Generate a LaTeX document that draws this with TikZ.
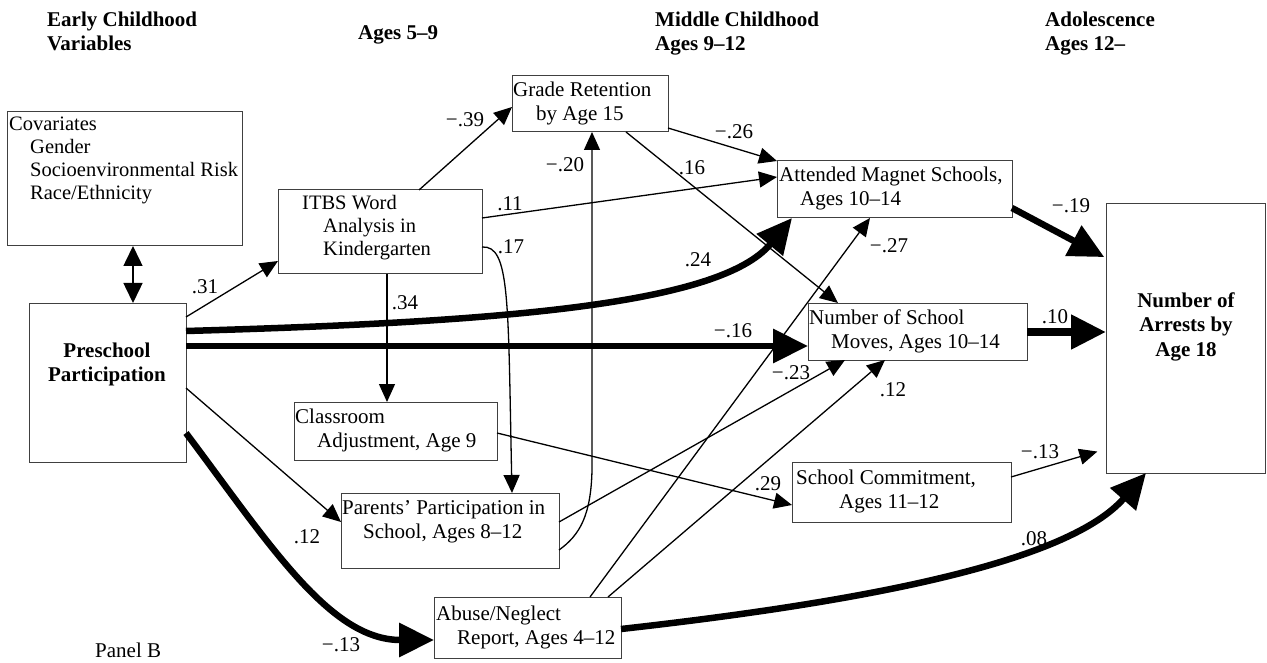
\documentclass[tikz,border=0pt]{standalone}
\usepackage{fontspec}
\setmainfont{Liberation Serif}
\usetikzlibrary{arrows.meta}
\newcommand{\tl}[1]{\begin{tabular}[t]{@{}l@{}}#1\end{tabular}}
\newcommand{\tc}[1]{\begin{tabular}[t]{@{}c@{}}#1\end{tabular}}
\begin{document}
\begin{tikzpicture}[x=1pt,y=-1pt,
  box/.style={draw=black!75, line width=1pt, anchor=north west, inner sep=0pt, outer sep=0pt},
  txt/.style={anchor=base west, inner sep=0pt, font=\fontsize{21}{24}\selectfont},
  txtc/.style={anchor=base west, inner sep=0pt, font=\fontsize{20.5}{23}\selectfont},
  hdr/.style={anchor=base west, inner sep=0pt, font=\fontsize{21}{24}\selectfont\bfseries},
  bld/.style={anchor=base, inner sep=0pt, font=\fontsize{21}{24.5}\selectfont\bfseries},
  lbl/.style={inner sep=0pt, font=\fontsize{21}{24}\selectfont},
  thin/.style={line width=1.3pt, -{Triangle[length=18pt 0,width=16pt 0]}},
  thick/.style={line width=6.5pt, -{Triangle[length=35pt 0,width=33pt 0]}},
]
\useasboundingbox (0,0) rectangle (1267,663);

% headers
\node[hdr] (h1) at (47,27) {\tl{Early Childhood\\Variables}};
\node[hdr] (h2) at (358,40) {Ages 5–9};
\node[hdr] (h3) at (655,27) {\tl{Middle Childhood\\Ages 9–12}};
\node[hdr] (h4) at (1045,27) {\tl{Adolescence\\Ages 12–}};
\node[txt] (panel) at (95,657) {Panel B};

% boxes
\node[box, minimum width=235pt, minimum height=134pt] (cov) at (7,112) {};
\node[box, minimum width=157pt, minimum height=159pt] (pre) at (29,303) {};
\node[box, minimum width=204pt, minimum height=84pt] (itbs) at (278,190) {};
\node[box, minimum width=156pt, minimum height=56pt] (gr) at (512,76) {};
\node[box, minimum width=235pt, minimum height=57pt] (mag) at (777,161) {};
\node[box, minimum width=219pt, minimum height=57pt] (mov) at (808,303) {};
\node[box, minimum width=159pt, minimum height=269pt] (arr) at (1106,204) {};
\node[box, minimum width=203pt, minimum height=58pt] (cls) at (294,402) {};
\node[box, minimum width=218pt, minimum height=75pt] (par) at (341,493) {};
\node[box, minimum width=187pt, minimum height=61pt] (abu) at (434,597) {};
\node[box, minimum width=219pt, minimum height=60pt] (sc) at (792,462) {};

% box texts
\node[txtc] (covt) at (9,131) {\tl{Covariates\\\hspace*{21pt}Gender\\\hspace*{21pt}Socioenvironmental Risk\\\hspace*{21pt}Race/Ethnicity}};
\node[bld] (pret) at (107,357) {\tc{Preschool\\Participation}};
\node[txtc] (itbst) at (302,210) {\tl{ITBS Word\\\hspace*{21pt}Analysis in\\\hspace*{21pt}Kindergarten}};
\node[txt] (grt) at (513,97) {\tl{Grade Retention\\\hspace*{23pt}by Age 15}};
\node[txt] (magt) at (779,182) {\tl{Attended Magnet Schools,\\\hspace*{21pt}Ages 10–14}};
\node[txt] (movt) at (809,324) {\tl{Number of School\\\hspace*{22pt}Moves, Ages 10–14}};
\node[bld] (arrt) at (1186,307) {\tc{Number of\\Arrests by\\Age 18}};
\node[txt] (clst) at (295,423) {\tl{Classroom\\\hspace*{22pt}Adjustment, Age 9}};
\node[txt] (part) at (342,514) {\tl{Parents’ Participation in\\\hspace*{21pt}School, Ages 8–12}};
\node[txt] (abut) at (436,620) {\tl{Abuse/Neglect\\\hspace*{21pt}Report, Ages 4–12}};
\node[txt] (sct) at (796,484) {\tl{School Commitment,\\\hspace*{43pt}Ages 11–12}};

% connectors
\draw[line width=1.5pt, {Triangle[length=20pt 0,width=19pt 0]}-{Triangle[length=20pt 0,width=19pt 0]}]
  ([xshift=126pt]cov.south west) -- ([xshift=104pt]pre.north west);
\draw[thin] ([yshift=-14pt]pre.north east) -- ([yshift=13pt]itbs.south west);
\draw[thin] ([xshift=141pt]itbs.north west) -- ([yshift=-31pt]gr.north west);
\draw[thin] ([yshift=4pt]gr.south east) -- (mag.north west);
\draw[thin] ([xshift=114pt]gr.south west) -- ([xshift=30pt]mov.north west);
\draw[thin] ([yshift=-28pt]itbs.north east) -- ([yshift=-16pt]mag.north west);
\draw[thin] ([yshift=27pt]itbs.south east) .. controls (510,245) and (508,300) .. ([xshift=171pt]par.north west);
\draw[thin] ([xshift=109pt]itbs.south west) -- ([xshift=93pt]cls.north west);
\draw[thin] ([yshift=-85pt]pre.north east) -- ([yshift=-29pt]par.north west);
\draw[thin] ([yshift=18pt]par.south east) .. controls (580,535) and (591,515) .. (592,470) -- ([xshift=80pt]gr.south west);
\draw[thin] ([yshift=-31pt]cls.north east) -- ([yshift=-43pt]sc.north west);
\draw[thin] ([yshift=-29pt]par.north east) -- ([xshift=37pt]mov.south west);
\draw[thin] ([xshift=156pt]abu.north west) -- ([xshift=93pt]mag.south west);
\draw[thin] ([xshift=174pt]abu.north west) -- ([xshift=77pt]mov.south west);
\draw[thin, shorten >=9pt] ([yshift=-15pt]sc.north east) -- ([yshift=-245pt]arr.north west);

\draw[thick] ([yshift=-28pt]pre.north east) .. controls (500,322) and (720,305) .. ([xshift=15pt]mag.south west);
\draw[thick] ([yshift=-43pt]pre.north east) -- ([yshift=-43pt]mov.north west);
\draw[thick] ([yshift=29pt]pre.south east) .. controls (270,545) and (330,640) .. ([yshift=-43pt]abu.north west);
\draw[thick, shorten >=2pt] ([yshift=-47pt]mag.north east) -- ([yshift=-54pt]arr.north west);
\draw[thick, line width=8pt] ([yshift=-29pt]mov.north east) -- ([yshift=-128pt]arr.north west);
\draw[thick] ([yshift=29pt]abu.south east) .. controls (880,600) and (1070,560) .. ([xshift=40pt]arr.south west);

% labels
\node[lbl] (l31) at (205,287) {.31};
\node[lbl] (l39) at (465,120) {−.39};
\node[lbl] (l26) at (734,132) {−.26};
\node[lbl] (l20) at (565,165) {−.20};
\node[lbl] (l16) at (692,168) {.16};
\node[lbl] (l11) at (510,204) {.11};
\node[lbl] (l17) at (511,247) {.17};
\node[lbl] (l24) at (698,260) {.24};
\node[lbl] (l34) at (405,303) {.34};
\node[lbl] (l16b) at (733,331) {−.16};
\node[lbl] (l23) at (791,373) {−.23};
\node[lbl] (l27) at (889,246) {−.27};
\node[lbl] (l12) at (893,390) {.12};
\node[lbl] (l19) at (1071,206) {−.19};
\node[lbl] (l10) at (1055,317) {.10};
\node[lbl] (l13) at (1040,452) {−.13};
\node[lbl] (l29) at (768,484) {.29};
\node[lbl] (l08) at (1034,539) {.08};
\node[lbl] (l12b) at (307,537) {.12};
\node[lbl] (l13b) at (341,645) {−.13};
\end{tikzpicture}
\end{document}
